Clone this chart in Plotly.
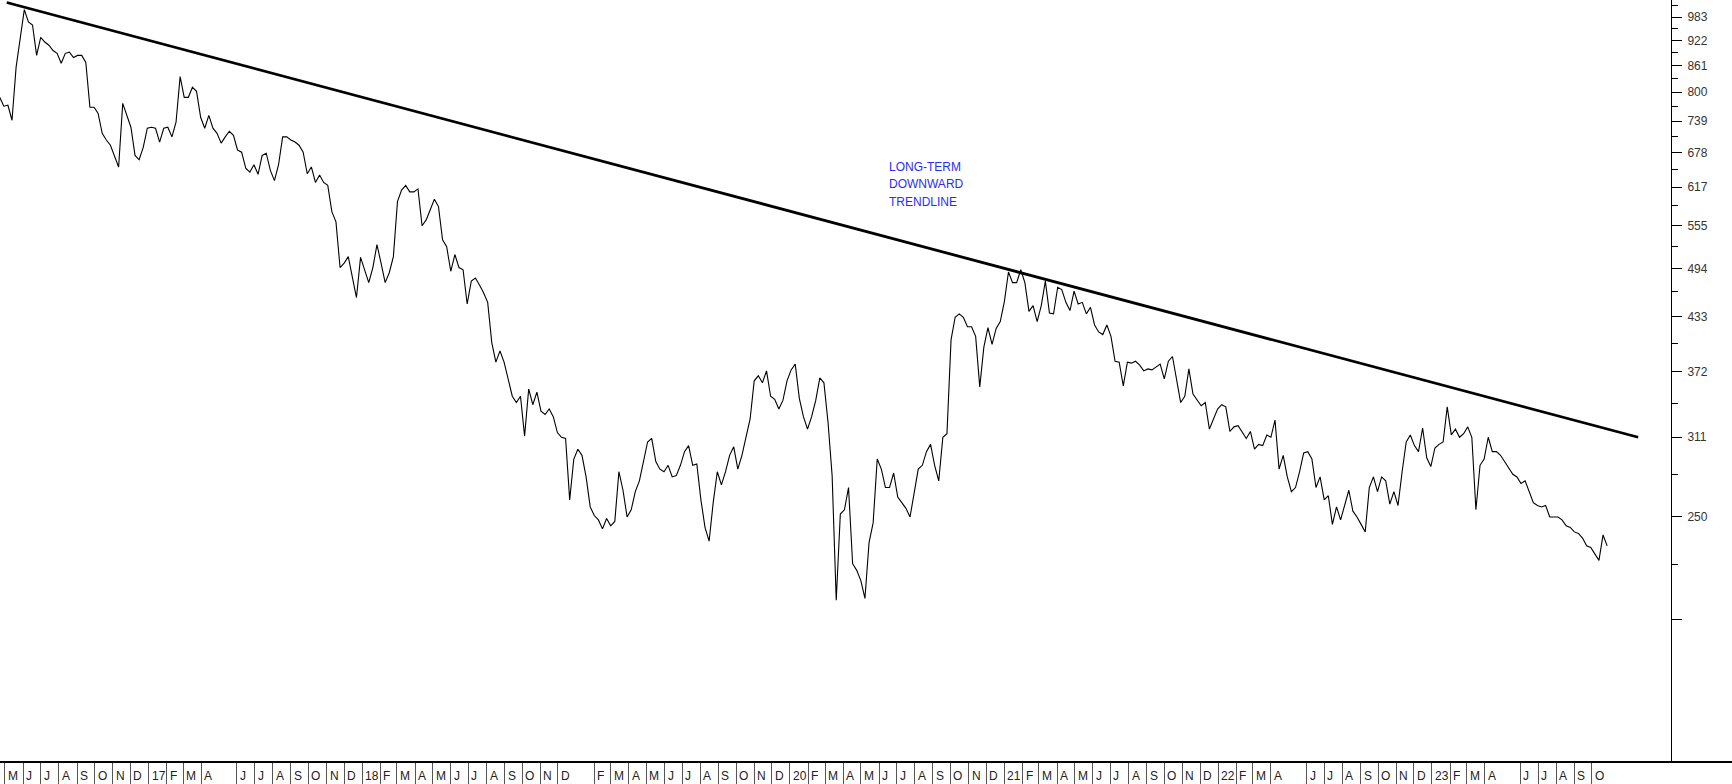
import math
import pandas as pd
import plotly.graph_objects as go

# ---------------- data (weekly closes) ----------------
start_date = "2016-04-22"
prices = [
    789, 770, 772, 741, 857, 922, 1003, 970, 962, 885,
    930, 918, 910, 897, 890, 866, 890, 893, 880, 885,
    885, 868, 768, 768, 755, 715, 702, 692, 673, 652,
    776, 751, 727, 673, 665, 688, 725, 727, 725, 698,
    725, 727, 708, 737, 835, 789, 789, 811, 802, 747,
    725, 751, 725, 715, 696, 708, 719, 711, 683, 679,
    650, 643, 656, 639, 673, 677, 646, 628, 656, 708,
    708, 702, 698, 692, 679, 640, 652, 625, 638, 625,
    620, 577, 561, 495, 501, 510, 483, 456, 509, 492,
    475, 495, 527, 501, 475, 488, 510, 593, 612, 620,
    609, 609, 614, 555, 564, 580, 597, 585, 534, 524,
    490, 513, 495, 492, 448, 477, 481, 472, 462, 450,
    403, 382, 394, 382, 365, 348, 342, 348, 312, 355,
    340, 352, 334, 331, 336, 329, 315, 311, 310, 262,
    293, 301, 296, 279, 257, 251, 248, 242, 249, 244,
    247, 283, 269, 250, 255, 268, 276, 291, 307, 310,
    291, 285, 283, 288, 279, 280, 288, 299, 304, 288,
    289, 262, 243, 234, 260, 283, 273, 283, 296, 303,
    285, 296, 310, 327, 363, 368, 361, 373, 348, 345,
    336, 344, 363, 374, 380, 346, 329, 318, 329, 344,
    366, 361, 324, 280, 199, 252, 255, 271, 220, 216,
    210, 200, 233, 246, 293, 285, 271, 271, 282, 264,
    260, 256, 250, 268, 285, 288, 299, 305, 288, 276,
    311, 314, 406, 432, 436, 432, 421, 421, 410, 357,
    398, 420, 401, 419, 427, 451, 489, 475, 475, 492,
    475, 439, 446, 427, 446, 477, 437, 436, 469, 466,
    450, 440, 464, 448, 450, 436, 444, 423, 415, 412,
    423, 410, 383, 382, 358, 382, 381, 383, 379, 373,
    375, 374, 377, 380, 365, 383, 388, 365, 342, 348,
    375, 350, 344, 339, 342, 318, 327, 336, 340, 338,
    316, 320, 321, 316, 310, 316, 301, 305, 304, 313,
    311, 326, 285, 296, 279, 268, 271, 283, 298, 299,
    293, 271, 279, 262, 265, 245, 257, 248, 259, 269,
    254, 250, 245, 240, 271, 279, 268, 279, 276, 259,
    268, 258, 283, 307, 313, 304, 299, 319, 294, 287,
    302, 305, 307, 338, 313, 318, 311, 314, 320, 311,
    255, 288, 293, 311, 299, 299, 296, 291, 286, 281,
    279, 274, 276, 268, 260, 258, 257, 258, 250, 250,
    250, 248, 244, 243, 240, 239, 236, 231, 230, 226,
    222, 238, 231,
]

trend_dates = ["2016-05-04", "2023-12-19"]
trend_values = [1023, 311]

# right-hand price scale
y_tick_values = [189, 250, 311, 372, 433, 494, 555, 617, 678, 739, 800, 861, 922, 983]
y_tick_labels = ["", "250", "311", "372", "433", "494", "555", "617", "678",
                 "739", "800", "861", "922", "983"]
y_minor_values = [219.5, 280.5, 341.5, 402.5, 463.5, 524.5, 586, 647.5,
                  708.5, 769.5, 830.5, 891.5, 952.5, 1013.5]

# month row (May 2016 .. Oct 2023); empty = no label / no cell divider
month_start = "2016-05-01"
month_labels = [
    "M", "J", "J", "A", "S", "O", "N", "D",
    "17", "F", "M", "A", "", "J", "J", "A", "S", "O", "N", "D",
    "18", "F", "M", "A", "M", "J", "J", "A", "S", "O", "N", "D",
    "", "F", "M", "A", "M", "J", "J", "A", "S", "O", "N", "D",
    "20", "F", "M", "A", "M", "J", "J", "A", "S", "O", "N", "D",
    "21", "F", "M", "A", "M", "J", "J", "A", "S", "O", "N", "D",
    "22", "F", "M", "A", "", "J", "J", "A", "S", "O", "N", "D",
    "23", "F", "M", "A", "", "J", "J", "A", "S", "O",
]

note_lines = ["LONG-TERM", "DOWNWARD", "TRENDLINE"]

x_range = ["2016-04-22 12:00", "2024-02-13"]
y_range = [127.8, 1030]

# ---------------- figure ----------------
dates = pd.date_range(start_date, periods=len(prices), freq="7D")
months = pd.date_range(month_start, periods=len(month_labels), freq="MS")
cells = [(m, lab) for m, lab in zip(months, month_labels) if lab]

FONT = "Liberation Sans, Arial, sans-serif"

fig = go.Figure()
fig.add_trace(go.Scatter(
    x=dates, y=prices, mode="lines",
    line=dict(color="#000000", width=1.1),
    hoverinfo="skip", showlegend=False,
))
fig.add_trace(go.Scatter(
    x=pd.to_datetime(trend_dates), y=trend_values, mode="lines",
    line=dict(color="#000000", width=2.8),
    hoverinfo="skip", showlegend=False,
))

annotations = []
for m, lab in cells:
    annotations.append(dict(
        x=m, xref="x", y=0, yref="paper", text=lab, showarrow=False,
        xanchor="left", yanchor="top", xshift=1, yshift=-5,
        font=dict(family=FONT, size=12, color="#222222"),
    ))
note_y = [0.7812, 0.7582, 0.7353]
for txt, yy in zip(note_lines, note_y):
    annotations.append(dict(
        x=0.5308, xref="paper", y=yy, yref="paper", text=txt, showarrow=False,
        xanchor="left", yanchor="middle",
        font=dict(family=FONT, size=12, color="#2b2bff"),
    ))

fig.update_layout(
    width=1732, height=784,
    margin=dict(l=0, r=61, t=0, b=22, pad=0),
    paper_bgcolor="white", plot_bgcolor="white",
    showlegend=False,
    annotations=annotations,
    shapes=[dict(type="line", xref="paper", yref="paper", x0=0, x1=1.05, y0=0, y1=0,
                 line=dict(color="#000000", width=2))],
    xaxis=dict(
        type="date", range=x_range, showgrid=False, zeroline=False,
        showline=False, automargin=False,
        tickmode="array", tickvals=[m for m, _ in cells],
        ticks="outside", ticklen=22, tickwidth=1, tickcolor="#555555",
        showticklabels=False,
    ),
    yaxis=dict(
        type="log", side="right",
        range=[math.log10(y_range[0]), math.log10(y_range[1])],
        showgrid=False, zeroline=False, automargin=False,
        showline=True, linecolor="#000000", linewidth=1,
        tickmode="array", tickvals=y_tick_values, ticktext=y_tick_labels,
        ticks="outside", ticklen=10, tickwidth=1, tickcolor="#000000",
        ticklabelstandoff=3,
        tickfont=dict(family=FONT, size=12, color="#333333"),
        minor=dict(tickmode="array", tickvals=y_minor_values, ticks="outside",
                   ticklen=6, tickwidth=1, tickcolor="#000000"),
    ),
)

fig.write_html("out.html", config={"displayModeBar": False},
               post_script="document.body.style.margin='0';")
